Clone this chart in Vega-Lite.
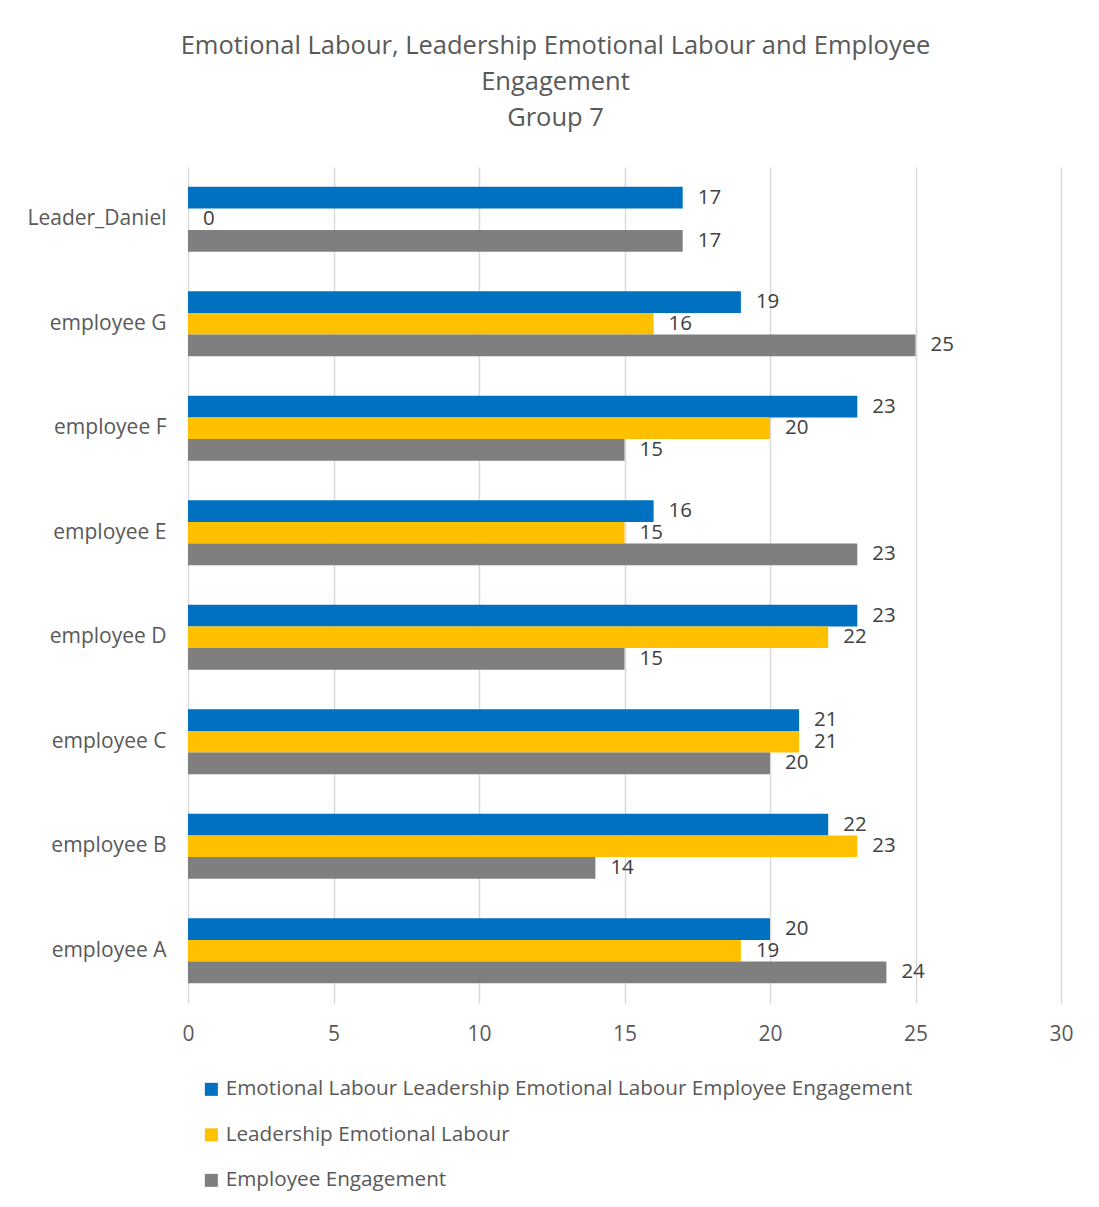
{
  "$schema": "https://vega.github.io/schema/vega-lite/v6.json",
  "width": 873,
  "height": 836,
  "autosize": {"type": "none"},
  "padding": {"left": 188, "top": 167, "right": 38, "bottom": 204},
  "background": "white",
  "config": {
    "font": "Open Sans",
    "view": {"stroke": null}
  },
  "title": {
    "text": ["Emotional Labour, Leadership Emotional Labour and Employee", "Engagement", "Group 7"],
    "fontSize": 25.5,
    "fontWeight": "normal",
    "color": "#595959",
    "lineHeight": 36,
    "anchor": "middle",
    "frame": "group",
    "dx": -69,
    "offset": 36
  },
  "data": {
    "values": [
      {"name": "Leader_Daniel", "series": "Emotional Labour Leadership Emotional Labour Employee Engagement", "value": 17},
      {"name": "Leader_Daniel", "series": "Leadership Emotional Labour", "value": 0},
      {"name": "Leader_Daniel", "series": "Employee Engagement", "value": 17},
      {"name": "employee G", "series": "Emotional Labour Leadership Emotional Labour Employee Engagement", "value": 19},
      {"name": "employee G", "series": "Leadership Emotional Labour", "value": 16},
      {"name": "employee G", "series": "Employee Engagement", "value": 25},
      {"name": "employee F", "series": "Emotional Labour Leadership Emotional Labour Employee Engagement", "value": 23},
      {"name": "employee F", "series": "Leadership Emotional Labour", "value": 20},
      {"name": "employee F", "series": "Employee Engagement", "value": 15},
      {"name": "employee E", "series": "Emotional Labour Leadership Emotional Labour Employee Engagement", "value": 16},
      {"name": "employee E", "series": "Leadership Emotional Labour", "value": 15},
      {"name": "employee E", "series": "Employee Engagement", "value": 23},
      {"name": "employee D", "series": "Emotional Labour Leadership Emotional Labour Employee Engagement", "value": 23},
      {"name": "employee D", "series": "Leadership Emotional Labour", "value": 22},
      {"name": "employee D", "series": "Employee Engagement", "value": 15},
      {"name": "employee C", "series": "Emotional Labour Leadership Emotional Labour Employee Engagement", "value": 21},
      {"name": "employee C", "series": "Leadership Emotional Labour", "value": 21},
      {"name": "employee C", "series": "Employee Engagement", "value": 20},
      {"name": "employee B", "series": "Emotional Labour Leadership Emotional Labour Employee Engagement", "value": 22},
      {"name": "employee B", "series": "Leadership Emotional Labour", "value": 23},
      {"name": "employee B", "series": "Employee Engagement", "value": 14},
      {"name": "employee A", "series": "Emotional Labour Leadership Emotional Labour Employee Engagement", "value": 20},
      {"name": "employee A", "series": "Leadership Emotional Labour", "value": 19},
      {"name": "employee A", "series": "Employee Engagement", "value": 24}
    ]
  },
  "encoding": {
    "y": {
      "field": "name",
      "type": "nominal",
      "sort": ["Leader_Daniel", "employee G", "employee F", "employee E", "employee D", "employee C", "employee B", "employee A"],
      "scale": {"paddingInner": 0.378, "paddingOuter": 0.189},
      "axis": {
        "title": null,
        "domain": false,
        "ticks": false,
        "grid": false,
        "labelFontSize": 21,
        "labelColor": "#595959",
        "labelPadding": 22
      }
    },
    "yOffset": {
      "field": "series",
      "type": "nominal",
      "sort": ["Emotional Labour Leadership Emotional Labour Employee Engagement", "Leadership Emotional Labour", "Employee Engagement"],
      "scale": {"paddingInner": 0, "paddingOuter": 0}
    },
    "x": {
      "field": "value",
      "type": "quantitative",
      "scale": {"domain": [0, 30], "nice": false},
      "axis": {
        "title": null,
        "values": [0, 5, 10, 15, 20, 25, 30],
        "grid": true,
        "gridColor": "#D9D9D9",
        "gridWidth": 1.5,
        "domain": false,
        "ticks": false,
        "labelFlush": false,
        "labelFontSize": 21,
        "labelColor": "#595959",
        "labelPadding": 20
      }
    }
  },
  "layer": [
    {
      "mark": {"type": "bar"},
      "encoding": {
        "color": {
          "field": "series",
          "type": "nominal",
          "scale": {
            "domain": ["Emotional Labour Leadership Emotional Labour Employee Engagement", "Leadership Emotional Labour", "Employee Engagement"],
            "range": ["#0070C0", "#FFC000", "#7F7F7F"]
          },
          "legend": {
            "title": null,
            "orient": "none",
            "legendX": 13,
            "legendY": 912,
            "direction": "vertical",
            "symbolType": "square",
            "symbolSize": 169,
            "symbolStrokeWidth": 0,
            "labelFontSize": 20.7,
            "labelColor": "#595959",
            "labelOffset": 4,
            "labelLimit": 900,
            "rowPadding": 23.5,
            "padding": 0
          }
        }
      }
    },
    {
      "mark": {"type": "text", "align": "left", "baseline": "middle", "dx": 15, "fontSize": 20.5, "color": "#404040"},
      "encoding": {
        "text": {"field": "value", "type": "quantitative"}
      }
    }
  ]
}
